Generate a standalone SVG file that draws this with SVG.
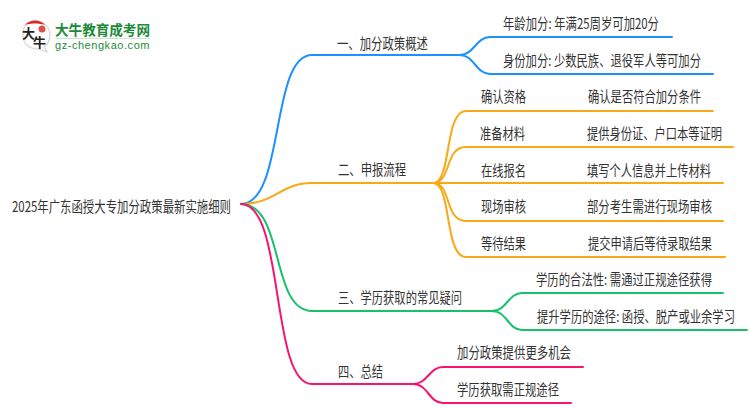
<svg xmlns="http://www.w3.org/2000/svg" width="750" height="410" viewBox="0 0 750 410">
<style>
text{font-family:"Noto Sans CJK SC","Liberation Sans",sans-serif;font-size:15px;fill:#333;lengthAdjust:spacingAndGlyphs}
.c{fill:none;stroke-width:2;stroke-linecap:round}
.b{stroke:#1e90ff}.o{stroke:#f9a915}.g{stroke:#15c26b}.p{stroke:#f8136f}
</style>
<rect width="750" height="410" fill="#fff"/>
<g id="connectors">
<path class="c b" d="M241 204C285 204 270 55 312 55H460C474 55 476 37 490 37H672M460 55C474 55 476 74 490 74H713"/>
<path class="c o" d="M241 204C275 204 280 183 312 183H433C452 183 444 111 466 111H713M433 183C452 183 444 147 466 147H733M433 183H723M433 183C452 183 444 221 466 221H723M433 183C452 183 444 257 466 257H725"/>
<path class="c g" d="M241 204C285 204 270 311 312 311H492C507 311 508 293 522 293H723M492 311C507 311 508 330 522 330H747"/>
<path class="c p" d="M241 204C285 204 270 384 312 384H413C428 384 429 367 443 367H583M413 384C428 384 429 403 443 403H571"/>
</g>
<g id="logo">
<path d="M35 21C24 21 23 30 23 35C23 45 30 49 38 49L47 52L44 47C48 44 50 40 50 35C50 27 44 21 35 21Z" fill="#fff" stroke="#ddd" stroke-width="1.5"/>
<path d="M25 25C30 19 40 19 45 25C39 23 31 23 25 25Z" fill="#d92a25"/>
<circle cx="42" cy="29" r="3.5" fill="#d9534f"/>
<text x="22" y="38" style="font-size:13px;fill:#222;font-weight:700">大</text>
<text x="33" y="47" style="font-size:13px;fill:#222;font-weight:700">牛</text>
<text x="55" y="35" textLength="95" lengthAdjust="spacingAndGlyphs" style="font-size:14px;fill:#1d8a3a;font-weight:700">大牛教育成考网</text>
<rect x="55" y="38" width="95" height="1" fill="#cfe3d4"/>
<text x="55" y="49" textLength="95" lengthAdjust="spacingAndGlyphs" style="font-size:10px;fill:#1d8a3a;font-family:'Liberation Sans',sans-serif;letter-spacing:.5px">gz-chengkao.com</text>
</g>
<g id="root"><text x="12" y="212" textLength="219" lengthAdjust="spacingAndGlyphs">2025年广东函授大专加分政策最新实施细则</text></g>
<g id="n1"><text x="337" y="49" textLength="91" lengthAdjust="spacingAndGlyphs">一、加分政策概述</text></g>
<g id="n1-1"><text x="503" y="29" textLength="156" lengthAdjust="spacingAndGlyphs">年龄加分: 年满25周岁可加20分</text></g>
<g id="n1-2"><text x="503" y="66" textLength="198" lengthAdjust="spacingAndGlyphs">身份加分: 少数民族、退役军人等可加分</text></g>
<g id="n2"><text x="338" y="175" textLength="68" lengthAdjust="spacingAndGlyphs">二、申报流程</text></g>
<g id="n2-1"><text x="481" y="102" textLength="45" lengthAdjust="spacingAndGlyphs">确认资格</text><text x="588" y="102" textLength="113" lengthAdjust="spacingAndGlyphs">确认是否符合加分条件</text></g>
<g id="n2-2"><text x="480" y="139" textLength="45" lengthAdjust="spacingAndGlyphs">准备材料</text><text x="587" y="139" textLength="135" lengthAdjust="spacingAndGlyphs">提供身份证、户口本等证明</text></g>
<g id="n2-3"><text x="481" y="176" textLength="45" lengthAdjust="spacingAndGlyphs">在线报名</text><text x="587" y="176" textLength="124" lengthAdjust="spacingAndGlyphs">填写个人信息并上传材料</text></g>
<g id="n2-4"><text x="481" y="212" textLength="45" lengthAdjust="spacingAndGlyphs">现场审核</text><text x="587" y="212" textLength="125" lengthAdjust="spacingAndGlyphs">部分考生需进行现场审核</text></g>
<g id="n2-5"><text x="481" y="249" textLength="45" lengthAdjust="spacingAndGlyphs">等待结果</text><text x="588" y="249" textLength="124" lengthAdjust="spacingAndGlyphs">提交申请后等待录取结果</text></g>
<g id="n3"><text x="338" y="303" textLength="124" lengthAdjust="spacingAndGlyphs">三、学历获取的常见疑问</text></g>
<g id="n3-1"><text x="536" y="285" textLength="176" lengthAdjust="spacingAndGlyphs">学历的合法性: 需通过正规途径获得</text></g>
<g id="n3-2"><text x="537" y="322" textLength="198" lengthAdjust="spacingAndGlyphs">提升学历的途径: 函授、脱产或业余学习</text></g>
<g id="n4"><text x="338" y="377" textLength="45" lengthAdjust="spacingAndGlyphs">四、总结</text></g>
<g id="n4-1"><text x="457" y="358" textLength="114" lengthAdjust="spacingAndGlyphs">加分政策提供更多机会</text></g>
<g id="n4-2"><text x="457" y="395" textLength="102" lengthAdjust="spacingAndGlyphs">学历获取需正规途径</text></g>
</svg>
